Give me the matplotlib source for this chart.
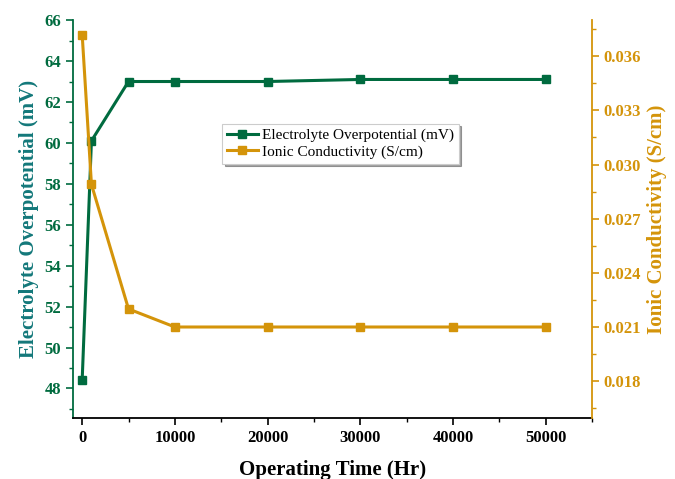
import matplotlib.pyplot as plt
from matplotlib.ticker import MultipleLocator

hours = [0, 1000, 5000, 10000, 20000, 30000, 40000, 50000]
overpotential = [48.4, 60.1, 63.0, 63.0, 63.0, 63.1, 63.1, 63.1]
conductivity = [0.0372, 0.0289, 0.0220, 0.0210, 0.0210, 0.0210, 0.0210, 0.0210]

green = '#006B3F'
orange = '#D4940A'
teal = '#13787A'

plt.rcParams['font.family'] = ['Liberation Serif', 'DejaVu Serif']

fig = plt.figure(figsize=(6.75, 4.79), dpi=100)
ax = fig.add_axes([0.108, 0.127, 0.769, 0.831])
ax2 = ax.twinx()

l1, = ax.plot(hours, overpotential, color=green, marker='s', markersize=6, lw=2.2,
              label='Electrolyte Overpotential (mV)')
l2, = ax2.plot(hours, conductivity, color=orange, marker='s', markersize=6, lw=2.2,
               label='Ionic Conductivity (S/cm)')

ax.set_xlim(-1000, 55000)
ax.set_ylim(46.55, 66)
ax2.set_ylim(0.01595, 0.038)

ax.xaxis.set_major_locator(MultipleLocator(10000))
ax.xaxis.set_minor_locator(MultipleLocator(5000))
ax.yaxis.set_major_locator(MultipleLocator(2))
ax.yaxis.set_minor_locator(MultipleLocator(1))
ax2.yaxis.set_major_locator(MultipleLocator(0.003))
ax2.yaxis.set_minor_locator(MultipleLocator(0.0015))
ax2.yaxis.set_major_formatter(plt.FormatStrFormatter('%.3f'))

for a in (ax, ax2):
    a.spines['top'].set_visible(False)
ax.spines['left'].set_color(green)
ax.spines['right'].set_visible(False)
ax2.spines['left'].set_visible(False)
ax2.spines['right'].set_color(orange)
ax2.spines['bottom'].set_visible(False)
for s in ('left', 'bottom'):
    ax.spines[s].set_linewidth(1.3)
ax2.spines['right'].set_linewidth(1.3)

ax.tick_params(axis='x', which='major', length=5, width=1.2, labelsize=12)
ax.tick_params(axis='x', which='minor', length=3, width=1.0)
ax.tick_params(axis='y', which='major', length=5, width=1.2, colors=green, labelsize=12)
ax.tick_params(axis='y', which='minor', length=3, width=1.0, colors=green)
ax2.tick_params(axis='y', which='major', length=5, width=1.2, colors=orange, labelsize=12)
ax2.tick_params(axis='y', which='minor', length=3, width=1.0, colors=orange)
for lab in ax.get_xticklabels() + ax.get_yticklabels() + ax2.get_yticklabels():
    lab.set_fontweight('bold')

ax.set_xlabel('Operating Time (Hr)', fontsize=15, fontweight='bold', labelpad=10)
ax.set_ylabel('Electrolyte Overpotential (mV)', fontsize=15, fontweight='bold', color=teal)
ax2.set_ylabel('Ionic Conductivity (S/cm)', fontsize=15, fontweight='bold', color=orange)

leg = ax2.legend(handles=[l1, l2], loc='upper left', bbox_to_anchor=(0.288, 0.74),
                 fontsize=11, frameon=True, fancybox=False, shadow=True,
                 handlelength=2.0, handletextpad=0.3, borderpad=0.3, labelspacing=0.2,
                 edgecolor='#cccccc', borderaxespad=0)
leg.get_frame().set_linewidth(0.8)

fig.savefig('out.png', dpi=100)
